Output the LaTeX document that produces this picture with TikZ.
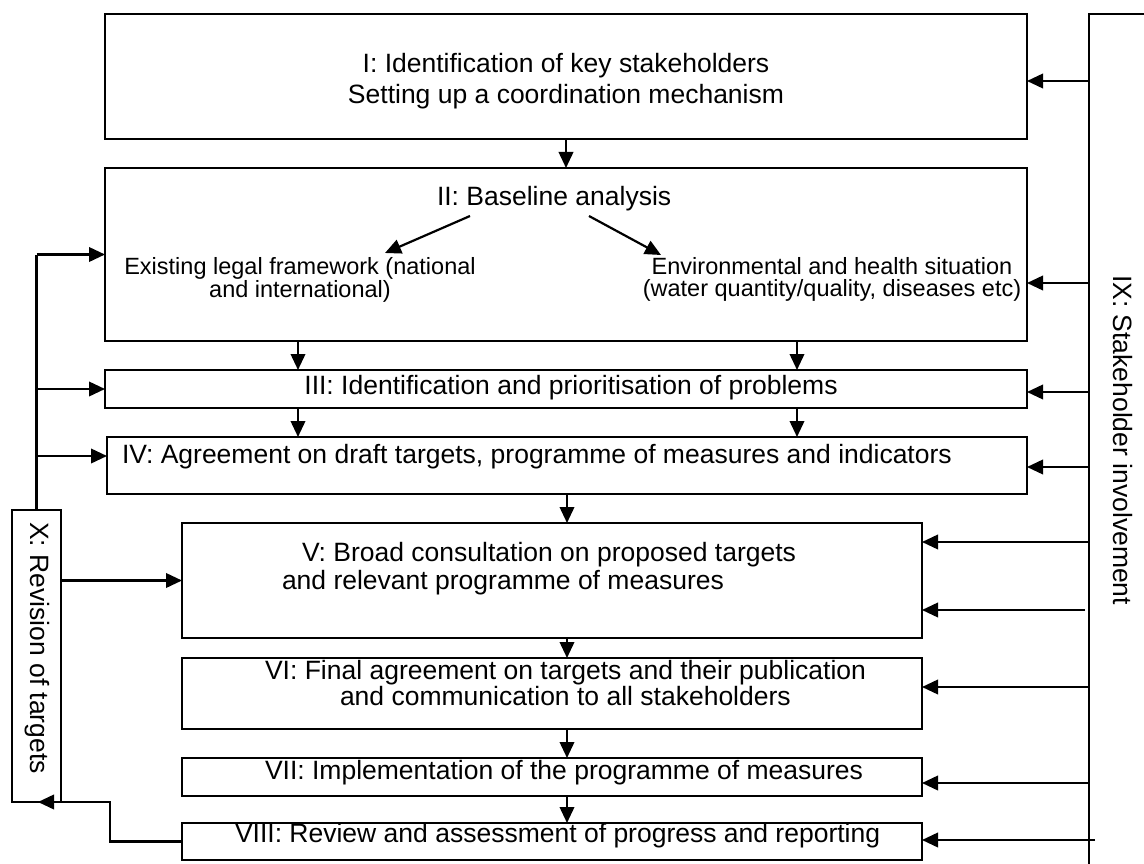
\documentclass[tikz,border=0pt]{standalone}
\usepackage{fontspec}
\setmainfont{Liberation Sans}
\usetikzlibrary{arrows.meta}
\begin{document}
\begin{tikzpicture}[x=1pt,y=-1pt,
  box/.style={draw, rectangle, inner sep=0pt, outer sep=0pt, line width=2.2pt},
  lbl/.style={inner sep=0pt, outer sep=0pt, font=\fontsize{26.5}{30}\selectfont},
  sub/.style={inner sep=0pt, outer sep=0pt, align=center, font=\fontsize{23.5}{21.7}\selectfont},
  arr/.style={-{Triangle[length=16pt,width=14.5pt]}, line width=2.2pt},
  ln/.style={line width=2.2pt}]
\useasboundingbox[fill=white] (0,0) rectangle (1144,864);
% boxes
\node[box, minimum width=922pt, minimum height=125pt] (I) at (566,76.5) {};
\node[box, minimum width=922pt, minimum height=173pt] (II) at (566,254.5) {};
\node[box, minimum width=922pt, minimum height=38pt] (III) at (566,389) {};
\node[box, minimum width=920pt, minimum height=57pt] (IV) at (567,465.5) {};
\node[box, minimum width=740pt, minimum height=115pt] (V) at (552,580.5) {};
\node[box, minimum width=740pt, minimum height=71pt] (VI) at (552,693.5) {};
\node[box, minimum width=740pt, minimum height=38pt] (VII) at (552,777) {};
\node[box, minimum width=740pt, minimum height=37pt] (VIII) at (552,841.5) {};
\node[box, minimum width=49pt, minimum height=292pt] (X) at (36.5,656) {};
% texts
\node[lbl, anchor=mid] (tI1) at (566,69.5) {I: Identification of key stakeholders};
\node[lbl, anchor=mid] (tI2) at (566,100.5) {Setting up a coordination mechanism};
\node[lbl, anchor=mid west] (tII) at (437,202.5) {II: Baseline analysis};
\node[sub] (tLeg) at (300,280) {Existing legal framework (national\\and international)};
\node[sub] (tEnv) at (832,279.5) {Environmental and health situation\\(water quantity/quality, diseases etc)};
\node[lbl, anchor=mid] (tIII) at (571,391.5) {III: Identification and prioritisation of problems};
\node[lbl, anchor=mid west] (tIV) at (122,460.5) {IV: Agreement on draft targets, programme of measures and indicators};
\node[lbl, anchor=mid west] (tV1) at (302,558.5) {V: Broad consultation on proposed targets};
\node[lbl, anchor=mid west] (tV2) at (282,586.5) {and relevant programme of measures};
\node[lbl, anchor=mid west] (tVI1) at (265,676.5) {VI: Final agreement on targets and their publication};
\node[lbl, anchor=mid west] (tVI2) at (340,702.5) {and communication to all stakeholders};
\node[lbl, anchor=mid west] (tVII) at (265,776.5) {VII: Implementation of the programme of measures};
\node[lbl, anchor=mid west] (tVIII) at (235,840) {VIII: Review and assessment of progress and reporting};
\node[lbl, rotate=-90] (tIX) at (1123,440) {IX: Stakeholder involvement};
\node[lbl, rotate=-90] (tX) at (37,648) {X: Revision of targets};
% II inner arrows
\coordinate (aL) at (470,216);
\coordinate (aLt) at (385,253);
\coordinate (aR) at (589,216);
\coordinate (aRt) at (661,255);
\draw[arr] (aL) -- (aLt);
\draw[arr] (aR) -- (aRt);
% downward flow
\draw[arr] (I.south) -- (II.north);
\draw[arr] ([xshift=-268pt]II.south) -- ([xshift=-268pt]III.north);
\draw[arr] ([xshift=231pt]II.south) -- ([xshift=231pt]III.north);
\draw[arr] ([xshift=-268pt]III.south) -- ([xshift=-268pt]III.south |- IV.north);
\draw[arr] ([xshift=231pt]III.south) -- ([xshift=231pt]III.south |- IV.north);
\draw[arr] (IV.south) -- (IV.south |- V.north);
\draw[arr] ([xshift=15pt]V.south) -- ([xshift=15pt]VI.north);
\draw[arr] ([xshift=15pt]VI.south) -- ([xshift=15pt]VII.north);
\draw[arr] ([xshift=15pt]VII.south) -- ([xshift=15pt]VIII.north);
% stakeholder line (IX)
\coordinate (IXt) at (1089,14);
\coordinate (IXb) at (1089,864);
\coordinate (IXr) at (1144,14);
\draw[ln] (IXb) -- (IXt) -- (IXr);
\coordinate (r1) at (1089,81);
\coordinate (r2) at (1089,283);
\coordinate (r3) at (1089,392);
\coordinate (r4) at (1089,467);
\coordinate (r5) at (1089,542);
\coordinate (r6) at (1085,610);
\coordinate (r7) at (1089,687);
\coordinate (r8) at (1089,783);
\coordinate (r9) at (1095,840);
\draw[arr] (r1) -- (r1 -| I.east);
\draw[arr] (r2) -- (r2 -| II.east);
\draw[arr] (r3) -- (r3 -| III.east);
\draw[arr] (r4) -- (r4 -| IV.east);
\draw[arr] (r5) -- (r5 -| V.east);
\draw[arr] (r6) -- (r6 -| V.east);
\draw[arr] (r7) -- (r7 -| VI.east);
\draw[arr] (r8) -- (r8 -| VII.east);
\draw[arr] (r9) -- (r9 -| VIII.east);
% revision loop (X)
\draw[ln] (X.north) -- (X.north |- II.west);
\draw[arr] (X.north |- II.west) -- (II.west);
\draw[arr] (X.north |- III.west) -- (III.west);
\draw[arr] ([yshift=9.5pt]X.north |- IV.west) -- ([yshift=9.5pt]IV.west);
\draw[arr] (X.east |- V.west) -- (V.west);
\coordinate (bk) at (110,802);
\draw[arr] (VIII.west) -| (bk) -- ([xshift=1.5pt]X.south);
\end{tikzpicture}
\end{document}
